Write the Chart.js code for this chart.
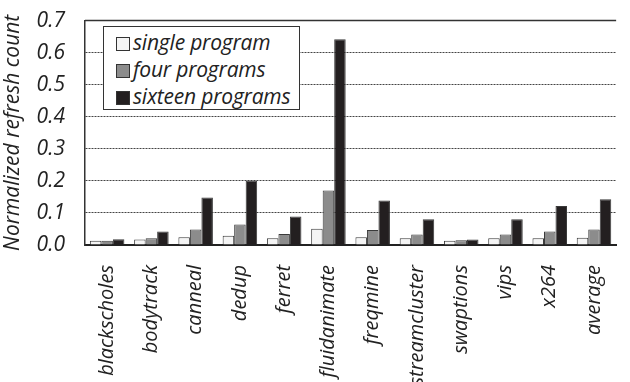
<!DOCTYPE html>
<html>
<head>
<meta charset="utf-8">
<script src="https://cdn.jsdelivr.net/npm/chart.js@4/dist/chart.umd.min.js"></script>
<style>
  html, body { margin: 0; padding: 0; background: #fff; overflow: hidden; }
  #wrap { position: relative; width: 630px; height: 382px; overflow: hidden; }
  #chart { position: absolute; left: 0; top: -12px; }
  #legend {
    position: absolute; left: 103px; top: 26px; width: 197px; height: 84px;
    border: 1.5px solid #333; background: #fff; box-sizing: border-box;
    font: italic 21px "Open Sans", sans-serif; color: #222; padding: 2px 0 0 12px;
    letter-spacing: -0.2px;
  }
  #legend div { height: 27px; line-height: 27px; white-space: nowrap; }
  #legend span {
    display: inline-block; width: 12px; height: 12px; border: 1px solid #333;
    vertical-align: -1px; margin-right: 3px;
  }
</style>
</head>
<body>
<div id="wrap">
  <canvas id="chart" width="630" height="394"></canvas>
  <div id="legend"></div>
</div>
<script>
const benchmarks = ["blackscholes", "bodytrack", "canneal", "dedup", "ferret", "fluidanimate",
  "freqmine", "streamcluster", "swaptions", "vips", "x264", "average"];
const singleProgram = [0.013, 0.017, 0.024, 0.029, 0.021, 0.051, 0.024, 0.021, 0.013, 0.021, 0.021, 0.023];
const fourPrograms = [0.013, 0.021, 0.048, 0.064, 0.034, 0.170, 0.047, 0.033, 0.015, 0.033, 0.042, 0.048];
const sixteenPrograms = [0.018, 0.042, 0.148, 0.201, 0.089, 0.642, 0.139, 0.080, 0.017, 0.080, 0.122, 0.143];
const yTicks = [0, 0.1, 0.2, 0.3, 0.4, 0.5, 0.6, 0.7];

const seriesNames = ["single program", "four programs", "sixteen programs"];
const fills = ["#f4f4f4", "#8c8c8c", "#231f20"];

const font = { family: "'Open Sans', sans-serif", style: "italic" };

// solid frame line on top of the plot
const frame = {
  id: "frame",
  afterDraw(chart) {
    const a = chart.chartArea, ctx = chart.ctx;
    ctx.save();
    ctx.strokeStyle = "#333";
    ctx.lineWidth = 1.5;
    ctx.beginPath();
    ctx.moveTo(a.left, a.top);
    ctx.lineTo(a.right, a.top);
    ctx.stroke();
    ctx.restore();
  }
};

new Chart(document.getElementById("chart"), {
  type: "bar",
  data: {
    labels: benchmarks,
    datasets: [singleProgram, fourPrograms, sixteenPrograms].map((d, i) => ({
      label: seriesNames[i],
      data: d,
      backgroundColor: fills[i],
      borderColor: "#3a3a3a",
      borderWidth: 1,
      categoryPercentage: 0.78,
      barPercentage: 1.0
    }))
  },
  options: {
    responsive: false,
    animation: false,
    layout: { padding: { top: 0, right: 0, left: 0, bottom: 0 } },
    plugins: { legend: { display: false }, tooltip: { enabled: false } },
    scales: {
      x: {
        grid: { display: false },
        border: { display: true, color: "#222", width: 2 },
        ticks: {
          color: "#222", minRotation: 90, maxRotation: 90, padding: 12,
          font: { ...font, size: 20 }
        },
        afterFit(s) { s.height = 137; }
      },
      y: {
        min: 0, max: 0.7,
        afterBuildTicks(s) { s.ticks = yTicks.map(v => ({ value: v })); },
        grid: { color: "#444", lineWidth: 1, drawTicks: false },
        border: { display: true, color: "#333", width: 1.5, dash: [2, 1] },
        ticks: {
          color: "#222", padding: 20,
          font: { ...font, size: 21 },
          callback: v => v.toFixed(1)
        },
        title: {
          display: true, text: "Normalized refresh count", color: "#222",
          font: { ...font, size: 21 }, padding: { top: 0, bottom: 1 }
        },
        afterFit(s) { s.width = 85; }
      }
    }
  },
  plugins: [frame]
});

document.getElementById("legend").innerHTML = seriesNames
  .map((n, i) => `<div><span style="background:${fills[i]}"></span>${n}</div>`).join("");
</script>
</body>
</html>
